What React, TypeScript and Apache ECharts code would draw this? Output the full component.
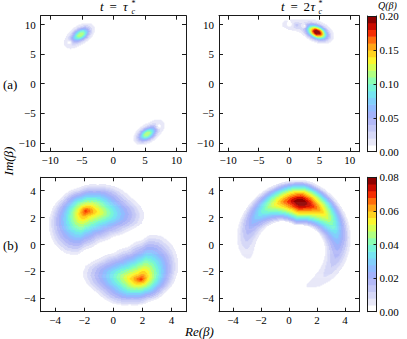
import React, { useEffect, useRef } from 'react';
import * as echarts from 'echarts';

// ---------- data ----------
const ticksTop = [-10, -5, 0, 5, 10];
const ticksBottom = [-4, -2, 0, 2, 4];
const rangeTop = 11.5;
const rangeBottom = 5;
const qMaxTop = 0.2;
const qMaxBottom = 0.08;
const cbarStepTop = 0.05;
const cbarStepBottom = 0.02;
const nLevels = 20;

// elongated gaussian lobes: [x, y, peak, sigmaMajor, sigmaMinor, angleDeg]
const lobesTopLeft = [
  [-5.2, 8.4, 0.12, 1.1, 0.66, 35],
  [5.35, -8.4, 0.12, 1.1, 0.66, 35],
  [-6.9, 6.8, 0.014, 0.8, 0.8, 0],
  [7.1, -6.9, 0.014, 0.8, 0.8, 0],
];
// interference holes: [x, y, radius]
const holesTopLeft = [
  [-7.0, 7.0, 0.3],
  [7.2, -7.1, 0.3],
];
const lobesTopRight = [
  [4.6, 8.8, 0.205, 1.15, 0.7, -25],
  [1.0, 9.95, 0.019, 1.9, 0.8, -5],
  [1.3, 10.0, 0.012, 0.35, 0.35, 0],
];
const holesTopRight = [
  [0.05, 10.1, 0.32],
  [2.45, 9.85, 0.27],
];

// bottom-left: two lobes, each a peak plus its outermost contour;
// the second lobe is the first one mirrored through the origin
const peakBottomLeft = [-1.9, 2.55, 0.071];
const outlineBottomLeft = [
  [2.1, 2.2], [1.9, 1.6], [1.0, 1.05], [0.0, 0.65], [-1.0, 0.2], [-2.0, -0.35], [-2.6, -0.75],
  [-3.3, -0.6], [-4.05, 0.1], [-4.4, 1.2], [-4.3, 2.3], [-3.6, 3.45], [-2.4, 4.2], [-1.1, 4.45],
  [0.1, 4.3], [1.1, 3.55], [1.8, 2.9],
];

// bottom-right crescent around a centre of curvature:
// [cx, cy, R, peakAngleDeg, peak, reachOutPeak, reachInPeak, reachOutTail, reachInTail,
//  arcScaleCCW, arcScaleCW, arcPower, arcEndCCW, arcEndCW]
const crescentsBottomRight = [
  [0.2, 0.0, 3.25, 79, 0.081, 1.67, 1.8, 0.7, 0.7, 3.53, 3.83, 1.35, 7.2, 12],
];

const levelColors = [
  '#ffffff', '#e8e8f8', '#d6d8f7', '#c4c8f6', '#b3b9f7', '#a2b2fa', '#91bcff', '#82cffb',
  '#76e4f1', '#78f5d7', '#8cffb2', '#b0ff82', '#d6ff52', '#fbf62e', '#ffd41f', '#ffa515',
  '#ff6e0b', '#f52d02', '#c90b00', '#8e0000',
];

// ---------- field models ----------
function lobeValue(b: number[], x: number, y: number) {
  const [bx, by, A, s1, s2, ang] = b;
  const t = (ang * Math.PI) / 180;
  const dx = x - bx, dy = y - by;
  const u = dx * Math.cos(t) + dy * Math.sin(t);
  const v = -dx * Math.sin(t) + dy * Math.cos(t);
  return A * Math.exp(-0.5 * ((u * u) / (s1 * s1) + (v * v) / (s2 * s2)));
}
function holeFactor(h: number[], x: number, y: number) {
  const [hx, hy, s] = h;
  const d2 = (x - hx) ** 2 + (y - hy) ** 2;
  return 1 - Math.exp((-0.5 * d2) / (s * s));
}
const CROSS_POWER = 1.5;
function crescentValue(c: number[], x: number, y: number) {
  const [cx, cy, R, tp, A, dop, dip, dot, dit, lp, lm, pw, ep, em] = c;
  const dx = x - cx, dy = y - cy;
  const r = Math.hypot(dx, dy);
  let dt = Math.atan2(dy, dx) - (tp * Math.PI) / 180;
  while (dt > Math.PI) dt -= 2 * Math.PI;
  while (dt <= -Math.PI) dt += 2 * Math.PI;
  const s = R * dt;
  const L = s >= 0 ? lp : lm;
  const E = s >= 0 ? ep : em;
  const as = Math.abs(s);
  const f = Math.exp(-Math.pow(as / L, pw) - Math.pow(as / E, 8));
  const dr = r - R;
  const D = dr >= 0 ? dot + (dop - dot) * f : dit + (dip - dit) * f;
  const u = Math.abs(dr) / D;
  if (u >= 1) return 0;
  return A * f * (1 - Math.pow(u, CROSS_POWER));
}

// star-shaped lobe: value falls off from the peak to the outline
const STAR_POWER = 0.9;
function makeStar(peak: number[], outline: number[][], threshold: number) {
  const [px, py, A] = peak;
  const pts = outline
    .map(([x, y]) => [Math.atan2(y - py, x - px), Math.hypot(x - px, y - py)])
    .sort((a, b) => a[0] - b[0]);
  const edge = Math.pow(1 - threshold / A, 1 / STAR_POWER);
  return (x: number, y: number) => {
    const dx = x - px, dy = y - py;
    const d = Math.hypot(dx, dy);
    if (d === 0) return A;
    const phi = Math.atan2(dy, dx);
    const n = pts.length;
    let i = 0;
    while (i < n && pts[i][0] < phi) i++;
    const a = pts[(i - 1 + n) % n], b = pts[i % n];
    let a0 = a[0], b0 = b[0], ph = phi;
    if (i === 0) a0 -= 2 * Math.PI;
    if (i === n) b0 += 2 * Math.PI;
    const t = (ph - a0) / (b0 - a0);
    const B = (a[1] + t * (b[1] - a[1])) / edge;
    const rho = d / B;
    if (rho >= 1) return 0;
    return A * (1 - Math.pow(rho, STAR_POWER));
  };
}

type F = (x: number, y: number) => number;
function makeField(lobes: number[][], holes: number[][], crescents: number[][], stars: F[]) {
  return (x: number, y: number) => {
    let v = 0;
    for (const b of lobes) v += lobeValue(b, x, y);
    for (const c of crescents) v += crescentValue(c, x, y);
    for (const s of stars) v += s(x, y);
    for (const h of holes) v *= holeFactor(h, x, y);
    return v;
  };
}
function buildRuns(field: F, range: number, nx: number, ny: number, step: number) {
  const dx = (2 * range) / nx, dy = (2 * range) / ny;
  const runs: number[][] = [];
  for (let j = 0; j < ny; j++) {
    const y = -range + (j + 0.5) * dy;
    let cur = 0, start = 0;
    for (let i = 0; i <= nx; i++) {
      let k = 0;
      if (i < nx) {
        const x = -range + (i + 0.5) * dx;
        k = Math.max(0, Math.min(nLevels - 1, Math.floor(field(x, y) / step)));
      }
      if (k !== cur) {
        if (cur > 0) runs.push([-range + start * dx, -range + i * dx, y, cur]);
        cur = k;
        start = i;
      }
    }
  }
  return { runs, dy };
}

const thrBottom = qMaxBottom / nLevels;
const starUpper = makeStar(peakBottomLeft, outlineBottomLeft, thrBottom);
const starLower = makeStar(
  [-peakBottomLeft[0], -peakBottomLeft[1], peakBottomLeft[2]],
  outlineBottomLeft.map(([x, y]) => [-x, -y]),
  thrBottom,
);

// ---------- layout ----------
const plots = [
  { left: 40.7, top: 15.7, width: 145.3, height: 136, range: rangeTop, ticks: ticksTop, qmax: qMaxTop,
    field: makeField(lobesTopLeft, holesTopLeft, [], []) },
  { left: 219, top: 15.7, width: 140, height: 136, range: rangeTop, ticks: ticksTop, qmax: qMaxTop,
    field: makeField(lobesTopRight, holesTopRight, [], []) },
  { left: 40.7, top: 177.3, width: 145.3, height: 134.4, range: rangeBottom, ticks: ticksBottom, qmax: qMaxBottom,
    field: makeField([], [], [], [starUpper, starLower]) },
  { left: 219, top: 177.3, width: 140, height: 134.4, range: rangeBottom, ticks: ticksBottom, qmax: qMaxBottom,
    field: makeField([], [], crescentsBottomRight, []) },
];
const cbars = [
  { left: 367.5, top: 16, width: 9, height: 135.7, qmax: qMaxTop, step: cbarStepTop },
  { left: 367.5, top: 177.3, width: 9, height: 134.4, qmax: qMaxBottom, step: cbarStepBottom },
];

const FONT = "'Liberation Serif', 'DejaVu Serif', serif";
const lineStyle = { color: '#1a1a1a', width: 1 };
const minus = (v: number) => String(v).replace('-', '\u2212');

function buildOption() {
  const grid: any[] = [];
  const xAxis: any[] = [];
  const yAxis: any[] = [];
  const series: any[] = [];

  plots.forEach((p, idx) => {
    grid.push({ left: p.left, top: p.top, width: p.width, height: p.height, containLabel: false });
    const base = {
      type: 'value', min: -p.range, max: p.range, gridIndex: idx, z: 5,
      splitLine: { show: false },
      axisLine: { show: true, onZero: false, lineStyle },
      axisTick: { show: true, inside: true, length: 4, customValues: p.ticks, lineStyle },
    };
    xAxis.push({ ...base, position: 'bottom',
      axisLabel: { show: true, customValues: p.ticks, formatter: minus, fontFamily: FONT, fontSize: 11, color: '#000', margin: 3 } });
    xAxis.push({ ...base, position: 'top', axisLabel: { show: false } });
    yAxis.push({ ...base, position: 'left',
      axisLabel: { show: true, customValues: p.ticks, formatter: minus, fontFamily: FONT, fontSize: 11, color: '#000', margin: 5 } });
    yAxis.push({ ...base, position: 'right', axisLabel: { show: false } });

    const { runs, dy } = buildRuns(p.field, p.range, 150, 140, p.qmax / nLevels);
    series.push({
      type: 'custom', xAxisIndex: 2 * idx, yAxisIndex: 2 * idx, clip: true, silent: true,
      progressive: 0, progressiveThreshold: 1e9,
      data: runs,
      renderItem: (_params: any, api: any) => {
        const x0 = api.value(0), x1 = api.value(1), yc = api.value(2), k = api.value(3);
        const p0 = api.coord([x0, yc + dy / 2]);
        const p1 = api.coord([x1, yc - dy / 2]);
        return {
          type: 'rect',
          shape: { x: p0[0], y: p0[1], width: p1[0] - p0[0] + 0.6, height: p1[1] - p0[1] + 0.6 },
          style: { fill: levelColors[k] },
        };
      },
    });
  });

  cbars.forEach((c, ci) => {
    const gi = plots.length + ci;
    grid.push({ left: c.left, top: c.top, width: c.width, height: c.height });
    const xb = { type: 'value', min: 0, max: 1, gridIndex: gi, z: 5, splitLine: { show: false },
      axisLine: { show: true, onZero: false, lineStyle }, axisTick: { show: false }, axisLabel: { show: false } };
    xAxis.push({ ...xb, position: 'bottom' });
    xAxis.push({ ...xb, position: 'top' });
    const yb = { type: 'value', min: 0, max: c.qmax, interval: c.step, gridIndex: gi, z: 5, splitLine: { show: false },
      axisLine: { show: true, onZero: false, lineStyle } };
    yAxis.push({ ...yb, position: 'left', axisTick: { show: false }, axisLabel: { show: false } });
    yAxis.push({ ...yb, position: 'right',
      axisTick: { show: true, inside: true, length: 3, lineStyle },
      axisLabel: { show: true, formatter: (v: number) => v.toFixed(2), fontFamily: FONT, fontSize: 11, color: '#000', margin: 3 } });
    const lstep = c.qmax / nLevels;
    const bands = levelColors.map((_, k) => [k * lstep, (k + 1) * lstep, k]);
    series.push({
      type: 'custom', xAxisIndex: 2 * gi, yAxisIndex: 2 * gi, clip: true, silent: true,
      data: bands,
      renderItem: (_params: any, api: any) => {
        const v0 = api.value(0), v1 = api.value(1), k = api.value(2);
        const p0 = api.coord([0, v1]);
        const p1 = api.coord([1, v0]);
        return { type: 'rect', shape: { x: p0[0], y: p0[1], width: p1[0] - p0[0], height: p1[1] - p0[1] + 0.5 },
          style: { fill: levelColors[k] } };
      },
    });
  });

  const txt = (text: string, x: number, y: number, size: number, opts: any = {}) => ({
    type: 'text', x, y, rotation: opts.rotation || 0,
    style: { text, fontFamily: FONT, fontSize: size, fontStyle: opts.italic ? 'italic' : 'normal',
      fill: '#000', align: opts.align || 'left', verticalAlign: 'middle' },
  });

  const graphic = [
    // title left: t = tau_c^*
    txt('t', 100, 6.3, 13, { italic: true }),
    txt('=', 109.5, 6.3, 13),
    txt('τ', 123, 6.3, 13, { italic: true }),
    txt('*', 131.5, 3.4, 8),
    txt('c', 131.5, 11.2, 8, { italic: true }),
    // title right: t = 2 tau_c^*
    txt('t', 281, 6.3, 13, { italic: true }),
    txt('=', 290.5, 6.3, 13),
    txt('2', 303.5, 6.3, 13),
    txt('τ', 310.5, 6.3, 13, { italic: true }),
    txt('*', 318.5, 3.4, 8),
    txt('c', 318.5, 11.2, 8, { italic: true }),
    txt('Q(β)', 378, 5.2, 10, { italic: true }),
    txt('(a)', 3, 84, 13),
    txt('(b)', 3, 245, 13),
    txt('Im(β)', 8, 161, 13, { italic: true, align: 'center', rotation: Math.PI / 2 }),
    txt('Re(β)', 199.5, 331, 13, { italic: true, align: 'center' }),
  ];

  return { animation: false, backgroundColor: '#ffffff', grid, xAxis, yAxis, series, graphic };
}

export default function App() {
  const ref = useRef<HTMLDivElement>(null);
  useEffect(() => {
    const chart = echarts.init(ref.current!, undefined, { renderer: 'svg', width: 407, height: 339 });
    chart.setOption(buildOption() as any);
    return () => chart.dispose();
  }, []);
  return <div ref={ref} style={{ position: 'fixed', left: 0, top: 0, width: 407, height: 339, background: '#fff' }} />;
}
